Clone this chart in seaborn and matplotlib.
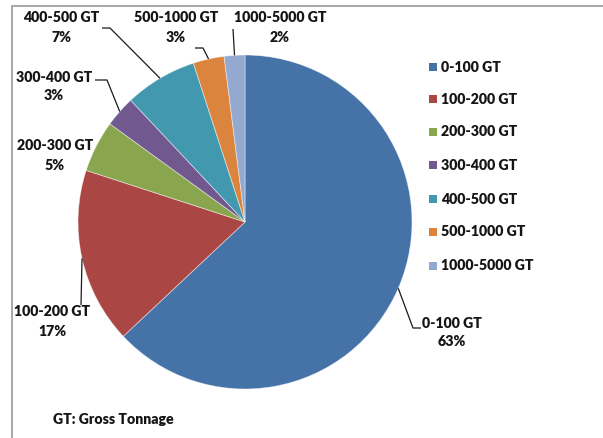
import numpy as np
import matplotlib
matplotlib.use("Agg")
import matplotlib.pyplot as plt
import seaborn as sns

categories = ["0-100 GT", "100-200 GT", "200-300 GT", "300-400 GT",
              "400-500 GT", "500-1000 GT", "1000-5000 GT"]
shares = [63, 17, 5, 3, 7, 3, 2]
colors = ["#4572A7", "#AA4643", "#89A54E", "#71588F", "#4198AF", "#DB843D", "#93A9CF"]
footnote = "GT: Gross Tonnage"

sns.set_theme(style="white")
plt.rcParams["font.family"] = ["Lato", "DejaVu Sans"]

W, H = 603, 438
fig = plt.figure(figsize=(W / 100, H / 100), dpi=100)
ax = fig.add_axes([0, 0, 1, 1])

def Y(y):
    return H - y

cx, cy, R = 245, 222, 167
wedges, _ = ax.pie(shares, colors=colors, startangle=90, counterclock=False,
                   center=(cx, Y(cy)), radius=R, frame=True,
                   wedgeprops=dict(linewidth=0.6, edgecolor=(1, 1, 1, 0.5)))
ax.set_xlim(0, W)
ax.set_ylim(0, H)
ax.set_aspect("equal")
ax.axis("off")

label_pos = {
    "0-100 GT": ((452, 323), [(413, 328), (421, 328)]),
    "100-200 GT": ((52, 312), [(81, 305)]),
    "200-300 GT": ((55, 146), []),
    "300-400 GT": ((54, 77), [(107, 80), (95, 80)]),
    "400-500 GT": ((61, 18), [(110, 28), (102, 28)]),
    "500-1000 GT": ((176, 18), [(203, 48), (195, 48)]),
    "1000-5000 GT": ((280, 18), [(233, 29)]),
}

fs = 10.2
wt = "heavy"
tc = "#151515"
for w, cat, val in zip(wedges, categories, shares):
    (tx, ty), path = label_pos[cat]
    ax.text(tx, Y(ty), cat, ha="center", va="center", fontsize=fs,
            fontweight=wt, color=tc)
    ax.text(tx, Y(ty + 19), f"{val}%", ha="center", va="center", fontsize=fs,
            fontweight=wt, color=tc)
    if path:
        ang = np.deg2rad((w.theta1 + w.theta2) / 2)
        ex = cx + R * np.cos(ang)
        ey = Y(cy) + R * np.sin(ang)
        xs = [ex] + [p[0] for p in path]
        ys = [ey] + [Y(p[1]) for p in path]
        ax.plot(xs, ys, color="#1a1a1a", lw=0.9, solid_capstyle="butt")

leg_y = [67, 99, 132, 165, 199, 232, 266]
for cat, col, ly in zip(categories, colors, leg_y):
    ax.add_patch(plt.Rectangle((429, Y(ly) - 4), 8, 8, color=col, lw=0))
    ax.text(441, Y(ly), cat, ha="left", va="center", fontsize=fs,
            fontweight=wt, color=tc)

ax.text(53, Y(419), footnote, ha="left", va="center", fontsize=10.2,
        fontweight=wt, color=tc)

ax.plot([11.5, 11.5], [0, Y(5.5)], color="#9a9a9a", lw=1.2)
ax.plot([11.5, W], [Y(5.5), Y(5.5)], color="#9a9a9a", lw=1.2)

fig.savefig("out.png", dpi=100)
